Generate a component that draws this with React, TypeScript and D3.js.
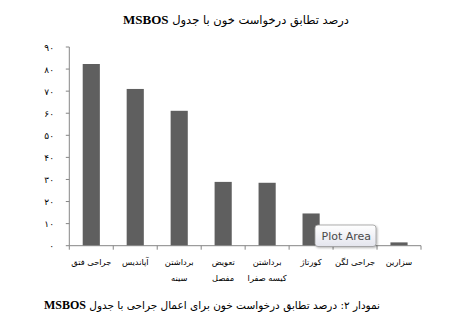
import React from "react";
import * as d3 from "d3";

const categories = [
  "جراحی فتق",
  "آپاندیس",
  "برداشتن|سینه",
  "تعویض|مفصل",
  "برداشتن|کیسه صفرا",
  "کورتاژ",
  "جراحی لگن",
  "سزارین",
];
const values = [82.3, 71, 61.1, 28.9, 28.5, 14.6, 0, 1.5];
const yTicks = [0, 10, 20, 30, 40, 50, 60, 70, 80, 90];

const toPersian = (n: number) =>
  String(n).replace(/[0-9]/g, (d) => "۰۱۲۳۴۵۶۷۸۹"[+d]);

const W = 459;
const H = 332;
const left = 69.3;
const right = 421;
const top = 47;
const bottom = 245.7;

export default function App() {
  const x = d3.scaleBand<number>().domain(d3.range(categories.length)).range([left, right]).paddingInner(0.61).paddingOuter(0.305);
  const xb = d3.scaleLinear().domain([0, categories.length]).range([left, right]);
  const y = d3.scaleLinear().domain([0, 90]).range([bottom, top]);
  const persianFont = "'DejaVu Sans', sans-serif";
  const axisColor = "#868686";
  return (
    <svg width={W} height={H} style={{ position: "absolute", left: 0, top: 0, background: "#fff" }}>
      <defs>
        <linearGradient id="tipg" x1="0" y1="0" x2="0" y2="1">
          <stop offset="0" stopColor="#ffffff" />
          <stop offset="1" stopColor="#e4e5ee" />
        </linearGradient>
        <filter id="sh" x="-20%" y="-20%" width="140%" height="160%">
          <feDropShadow dx="1" dy="1" stdDeviation="1" floodColor="#000" floodOpacity="0.3" />
        </filter>
      </defs>
      <rect x={0} y={0} width={W} height={H} fill="#fff" />
      {/* title */}
      <text x={236} y={24} textAnchor="middle" direction="rtl" fontSize={11.5} fill="#000" fontFamily={persianFont}>
        <tspan>درصد تطابق درخواست خون با جدول </tspan>
        <tspan fontFamily="'Liberation Serif', serif" fontWeight="bold" fontSize={13}>MSBOS</tspan>
      </text>
      {/* y axis */}
      <line x1={left} x2={left} y1={top} y2={bottom} stroke={axisColor} strokeWidth={1} />
      {yTicks.map((t) => (
        <g key={t}>
          <line x1={left - 3.5} x2={left} y1={y(t)} y2={y(t)} stroke={axisColor} />
          <text x={54} y={y(t) + 3.5} textAnchor="end" fontSize={9} fontFamily={persianFont} fill="#000">
            {t === 0 ? "٠" : toPersian(t)}
          </text>
        </g>
      ))}
      {/* bars */}
      {values.map((v, i) => (
        <rect key={i} x={x(i)} width={x.bandwidth()} y={y(v)} height={bottom - y(v)} fill="#5f5f5f" />
      ))}
      {/* x axis */}
      <line x1={left} x2={right} y1={bottom} y2={bottom} stroke={axisColor} />
      {d3.range(categories.length + 1).map((i) => (
        <line key={i} x1={xb(i)} x2={xb(i)} y1={bottom} y2={bottom + 4} stroke={axisColor} />
      ))}
      {categories.map((c, i) => {
        const lines = c.split("|");
        const cx = (x(i) as number) + x.bandwidth() / 2;
        return (
          <text key={i} x={cx} textAnchor="middle" direction="rtl" fontSize={8.3} fontFamily={persianFont} fill="#000">
            {lines.map((l, j) => (
              <tspan key={j} x={cx} y={265 + j * 15.5}>{l}</tspan>
            ))}
          </text>
        );
      })}
      {/* tooltip */}
      <g filter="url(#sh)">
        <rect x={315} y={225} width={61} height={21.5} rx={3} fill="url(#tipg)" stroke="#9a9a9a" strokeWidth={0.8} />
      </g>
      <text x={321.5} y={239.5} fontSize={11} fontFamily="'DejaVu Sans', sans-serif" fill="#4a4a4a">Plot Area</text>
      {/* caption */}
      <text x={380} y={309} textAnchor="start" direction="rtl" fontSize={10.5} fontFamily={persianFont} fill="#000">
        <tspan>نمودار ۲: درصد تطابق درخواست خون برای اعمال جراحی با جدول </tspan>
        <tspan fontFamily="'Liberation Serif', serif" fontWeight="bold" fontSize={12}>MSBOS</tspan>
      </text>
    </svg>
  );
}
